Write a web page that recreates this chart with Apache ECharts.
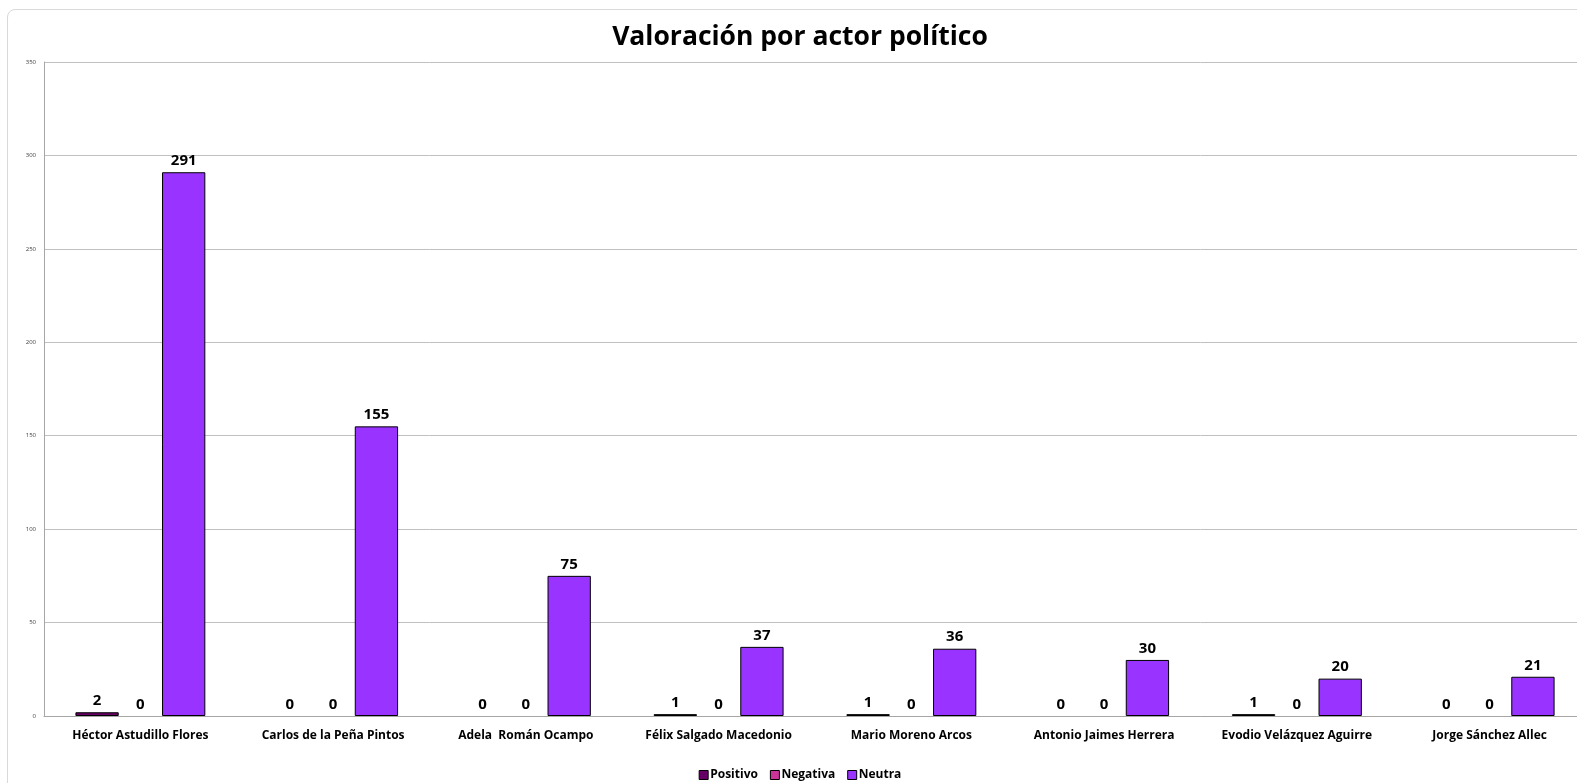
<!DOCTYPE html>
<html>
<head>
<meta charset="utf-8">
<script src="https://cdn.jsdelivr.net/npm/echarts@6/dist/echarts.min.js"></script>
<style>
html,body{margin:0;padding:0;background:#fff;overflow:hidden;}
#frame{position:absolute;left:7px;top:9px;width:1590px;height:790px;border:1px solid #d9d9d9;border-radius:8px;box-sizing:border-box;}
#chart{position:absolute;left:0;top:0;width:1600px;height:783px;}
</style>
</head>
<body>
<div id="frame"></div>
<div id="chart"></div>
<script>
const categories = ["Héctor Astudillo Flores","Carlos de la Peña Pintos","Adela  Román Ocampo","Félix Salgado Macedonio","Mario Moreno Arcos","Antonio Jaimes Herrera","Evodio Velázquez Aguirre","Jorge Sánchez Allec"];
const positivo = [2,0,0,1,1,0,1,0];
const negativa = [0,0,0,0,0,0,0,0];
const neutra = [291,155,75,37,36,30,20,21];
const seriesNames = ["Positivo","Negativa","Neutra"];
const colors = ["#660066","#CC3399","#9933FF"];

const chart = echarts.init(document.getElementById('chart'));
const font = "'Open Sans', sans-serif";
function mk(name, data, color){
  return {
    name: name, type: 'bar', barGap: '0%', barCategoryGap: '32.6%',
    data: data.map(v => v === 0 ? {value: v, itemStyle: {borderWidth: 0}} : v),
    itemStyle: {color: color, borderColor: '#000', borderWidth: 1},
    label: {show: true, position: 'top', distance: 4, color: '#000', fontWeight: 'bold', fontSize: 15, fontFamily: font},
    emphasis: {disabled: true}
  };
}
chart.setOption({
  animation: false,
  title: {text: 'Valoración por actor político', left: 'center', top: 19,
    textStyle: {fontFamily: font, fontWeight: 'bold', fontSize: 26.5, color: '#000'}},
  legend: {bottom: -3, left: 'center', itemWidth: 9, itemHeight: 9, itemGap: 12,
    icon: 'rect',
    itemStyle: {borderColor: '#000', borderWidth: 1},
    textStyle: {fontFamily: font, fontWeight: 'bold', fontSize: 12, color: '#000', padding: [0,0,0,-3]},
    data: seriesNames},
  grid: {left: 44, right: 14, top: 62, bottom: 67, containLabel: false},
  xAxis: {type: 'category', data: categories,
    axisLine: {lineStyle: {color: '#a6a6a6'}},
    axisTick: {show: false},
    axisLabel: {interval: 0, fontFamily: font, fontWeight: 'bold', fontSize: 12, color: '#000', margin: 14}},
  yAxis: {type: 'value', min: 0, max: 350, interval: 50,
    axisLine: {show: true, lineStyle: {color: '#a6a6a6'}},
    axisTick: {show: false},
    splitLine: {lineStyle: {color: '#c0c0c0'}},
    axisLabel: {fontFamily: font, fontSize: 6, color: '#404040', margin: 8}},
  series: [mk(seriesNames[0], positivo, colors[0]), mk(seriesNames[1], negativa, colors[1]), mk(seriesNames[2], neutra, colors[2])]
});
</script>
</body>
</html>
